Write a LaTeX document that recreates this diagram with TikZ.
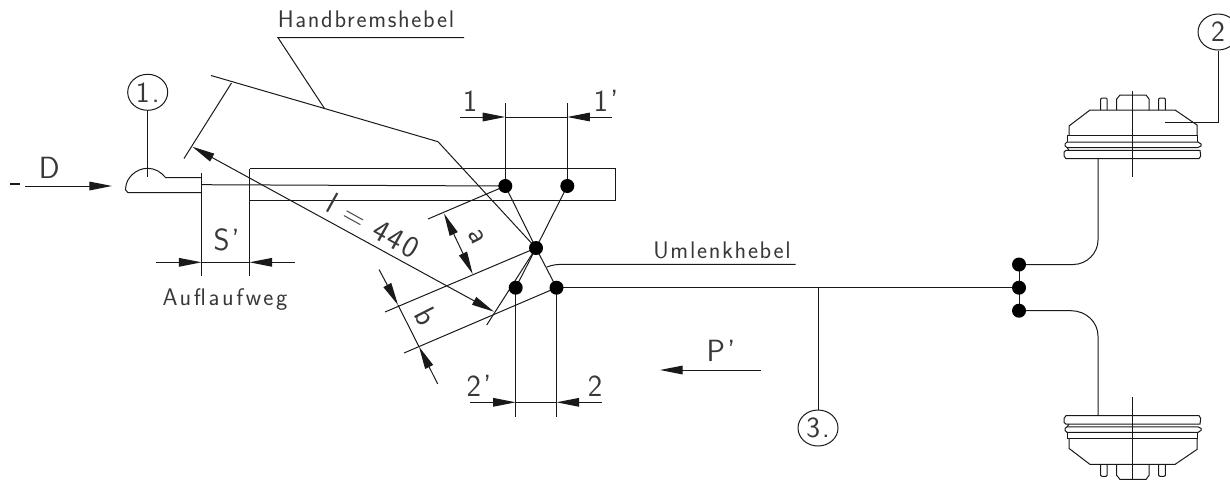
\documentclass[tikz,border=0pt]{standalone}
\usepackage{fontspec}
\setsansfont[LetterSpace=7]{Latin Modern Sans}
\usetikzlibrary{arrows.meta,shapes.geometric}
\definecolor{ink}{gray}{0.1}
\definecolor{txt}{gray}{0.22}
\tikzset{
  ln/.style={draw=ink,line width=0.75pt},
  dimarrow/.style={ln,-{Triangle[length=17pt,width=6.5pt]}},
  dimboth/.style={ln,{Triangle[length=17pt,width=6.5pt]}-{Triangle[length=17pt,width=6.5pt]}},
  pin/.style={circle,fill=black,draw=none,minimum size=10.5pt,inner sep=0pt},
  bubble/.style={ellipse,ln,fill=white,minimum width=30pt,minimum height=27pt,inner sep=0pt,text=txt,font=\sffamily\fontsize{22}{22}\selectfont},
  small/.style={inner sep=0pt,text=txt,font=\sffamily\fontsize{18}{18}\selectfont},
  big/.style={inner sep=0pt,text=txt,font=\sffamily\fontsize{23}{23}\selectfont},
}
\newcommand{\brakedrum}{%
  \draw[ln] (1069,135.7) -- (1069,126) -- (1090,110) -- (1175,110) -- (1197,125) -- (1197,135.7);
  \draw[ln] (1067,142) -- (1067,135.7) -- (1197,135.7) -- (1197,142);
  \draw[ln] (1067,142) -- (1198,142) -- (1201,144) -- (1201,146) -- (1198,147.5) -- (1067,147.5) -- (1065,146) -- (1065,144) -- cycle;
  \draw[ln] (1067,147.5) -- (1069,150.3);
  \draw[ln] (1066,150.3) -- (1200,150.3) -- (1200.7,156) -- (1199,158.7) -- (1066,158.7) -- (1064,156) -- (1064,152) -- cycle;
  \draw[ln] (1100.7,110) -- (1100.7,99) -- (1102,98) -- (1106,98) -- (1107,99) -- (1107,110);
  \draw[ln] (1158.7,110) -- (1158.7,99) -- (1160,98) -- (1164,98) -- (1165.3,99) -- (1165.3,110);
  \draw[ln] (1116.7,110) -- (1116.7,99) -- (1120,95) -- (1146,95) -- (1149,99) -- (1149,110);
  \draw[ln] (1132.3,90.7) -- (1132.3,177);
}
\begin{document}
\begin{tikzpicture}[x=0.75pt,y=-0.75pt]
\useasboundingbox (0,0) rectangle (1230,479);
% named points
\coordinate (hub) at (536,248);
\coordinate (p1) at (505.3,186);
\coordinate (p1b) at (567.3,186);
\coordinate (p2b) at (515.7,287.7);
\coordinate (p2) at (556.5,287.7);
\coordinate (jt) at (1019,264.5);
\coordinate (jm) at (1019,287.7);
\coordinate (jb) at (1019,310.7);

% nose and rod
\draw[ln] (201.3,177.7) -- (165.7,177.7) .. controls (161,172) and (155,168.3) .. (147.7,168.3)
  .. controls (136,168.3) and (126,178) .. (125.7,188) -- (125.7,190) -- (128,192.7) -- (201.5,192.7);
\draw[ln] (201.5,172.7) -- (201.5,275.7);
\draw[ln] (249.5,168.7) -- (249.5,275.7);
\draw[ln] (249.5,168.7) -- (615.6,168.7) -- (615.6,200.7) -- (249.5,200.7);
\draw[ln] (201.5,184.7) -- (p1);

% force D
\draw[ln,line width=1.1pt] (10,184) -- (20,184);
\coordinate (dt) at (25,186);
\coordinate (dh) at (112,186);
\draw[dimarrow] (dt) -- (dh);
\node[big,anchor=base] (lD) at (49.3,178.3) {D};

% S'
\coordinate (sa) at (156,262.3);
\coordinate (sb) at (201.5,262.3);
\coordinate (sc) at (249.5,262.3);
\coordinate (sd) at (295,262.3);
\draw[dimarrow] (sa) -- (sb);
\draw[ln] (sb) -- (sc);
\draw[dimarrow] (sd) -- (sc);
\node[big,anchor=base] (lS) at (226.7,250.7) {S'};
\node[small,anchor=base] (lA) at (225,305) {\addfontfeature{LetterSpace=11}Auflaufweg};

% hand brake lever
\coordinate (hl0) at (211,75.5);
\coordinate (hl1) at (324.5,108.5);
\coordinate (hl2) at (438,141.7);
\draw[ln] (hl0) -- (hl1) -- (hl2) -- (hub);
\coordinate (ul) at (278,37.7);
\coordinate (ur) at (464,37.7);
\draw[ln] (ur) -- (ul) -- (hl1);
\node[small,anchor=base] (lH) at (366,27) {Handbremshebel};

% length l
\coordinate (le1) at (231.5,83);
\coordinate (le2) at (184,158.5);
\draw[ln] (le1) -- (le2);
\coordinate (la) at (192.3,146.7);
\coordinate (lb) at (494,311.7);
\draw[dimboth] (la) -- (lb);
\coordinate (lo) at (486.7,325);
\draw[ln] (hub) -- (lo);
\node[big,rotate=-29] (lL) at (373,226) {l = 440};

% linkage
\draw[ln] (p1) -- (hub) -- (p2);
\draw[ln] (p1b) -- (hub) -- (p2b);
\coordinate (e1) at (505.3,103.3);
\coordinate (e2) at (567.3,103.3);
\coordinate (e3) at (515.7,416.7);
\coordinate (e4) at (556.5,416.7);
\draw[ln] (e1) -- (p1);
\draw[ln] (e2) -- (p1b);
\draw[ln] (e3) -- (p2b);
\draw[ln] (e4) -- (p2);

% dim 1 / 1'
\coordinate (d1a) at (460,117);
\coordinate (d1b) at (505.3,117);
\coordinate (d1c) at (567.3,117);
\coordinate (d1d) at (612,117);
\draw[dimarrow] (d1a) -- (d1b);
\draw[ln] (d1b) -- (d1c);
\draw[dimarrow] (d1d) -- (d1c);
\node[big,anchor=base] (l1) at (470,111.7) {1};
\node[big,anchor=base] (l1b) at (606,111.7) {1'};

% dim 2 / 2'
\coordinate (d2a) at (470,402.3);
\coordinate (d2b) at (515.7,402.3);
\coordinate (d2c) at (556.5,402.3);
\coordinate (d2d) at (601.7,402.3);
\draw[dimarrow] (d2a) -- (d2b);
\draw[ln] (d2b) -- (d2c);
\draw[dimarrow] (d2d) -- (d2c);
\node[big,anchor=base] (l2b) at (479,396.7) {2'};
\node[big,anchor=base] (l2) at (595,396.7) {2};

% dim a
\coordinate (ae) at (428,219);
\coordinate (al) at (385,312);
\draw[ln] (ae) -- (p1);
\draw[ln] (al) -- (hub);
\coordinate (aa) at (444,213.5);
\coordinate (ab) at (472.7,274);
\draw[dimboth] (aa) -- (ab);
\node[big,rotate=-63] (la1) at (476.7,236.7) {a};

% dim b
\coordinate (bl) at (404,353);
\draw[ln] (bl) -- (p2);
\coordinate (bs) at (379,269.5);
\coordinate (bt1) at (398,305);
\coordinate (bt2) at (419,346.7);
\coordinate (be) at (437.7,384);
\draw[dimarrow] (bs) -- (bt1);
\draw[ln] (bt1) -- (bt2);
\draw[dimarrow] (be) -- (bt2);
\node[big,rotate=-63] (lb1) at (426,316.7) {b};

% Umlenkhebel
\coordinate (um0) at (547,267);
\coordinate (um1) at (795.7,264.3);
\draw[ln] (um0) .. controls (552,265) and (556,264.3) .. (566,264.3) -- (um1);
\node[small,anchor=base] (lU) at (722,258) {Umlenkhebel};

% main rod
\draw[ln] (p2) -- (jm);
\draw[ln] (jt) -- (jb);
\coordinate (t3) at (818,287.7);

% P'
\coordinate (pa) at (760.7,370);
\coordinate (pb) at (660,370);
\draw[dimarrow] (pa) -- (pb);
\node[big,anchor=base] (lP) at (721,361.7) {P'};

% pipes
\coordinate (dt1) at (1098,158.7);
\coordinate (db1) at (1098,415.7);
\draw[ln] (jt) -- (1073,264.5) .. controls (1087,264.5) and (1098,253) .. (1098,240) -- (dt1);
\draw[ln] (jb) -- (1071,310.7) .. controls (1086,310.7) and (1098,322) .. (1098,336) -- (db1);

% drums
\brakedrum
\begin{scope}[shift={(0,574.4)},yscale=-1]
\brakedrum
\end{scope}

% pins
\foreach \n in {hub,p1,p1b,p2,p2b,jt,jm,jb} \node[pin] (pin\n) at (\n) {};

% bubbles
\node[bubble] (c1) at (147.7,92.3) {1.};
\draw[ln] (c1.south) -- (147.7,177);
\node[bubble] (c2) at (1218,32) {2};
\coordinate (c2a) at (1218,122);
\coordinate (c2b) at (1165,122);
\draw[ln] (c2.south) -- (c2a) -- (c2b);
\node[bubble] (c3) at (818,428) {3.};
\draw[ln] (t3) -- (c3.north);
\end{tikzpicture}
\end{document}
